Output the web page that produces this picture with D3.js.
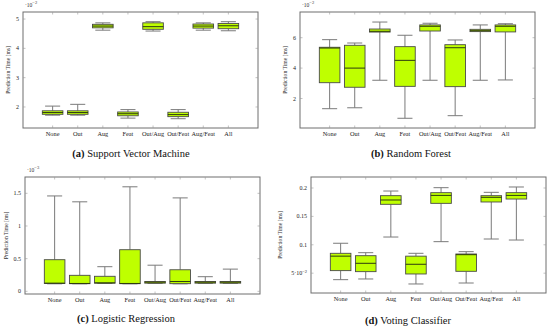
<!DOCTYPE html>
<html><head><meta charset="utf-8">
<script src="https://cdn.jsdelivr.net/npm/d3@7"></script>
<style>body{margin:0;background:#fff}svg{display:block}</style>
</head><body>
<script>
const categories = ["None","Out","Aug","Feat","Out/Aug","Out/Feat","Aug/Feat","All"];
// each entry: [lower whisker, q1, median, q3, upper whisker]
const svmStats = [[1.72,1.75,1.81,1.87,2.03],[1.72,1.75,1.81,1.87,2.09],[4.62,4.70,4.76,4.82,4.87],[1.62,1.70,1.77,1.83,1.91],
  [4.59,4.65,4.74,4.87,4.91],[1.60,1.67,1.74,1.82,1.91],[4.62,4.69,4.76,4.83,4.87],[4.60,4.67,4.77,4.85,4.91]];
const rfStats = [[1.33,3.04,5.32,5.37,5.87],[1.39,2.74,4.0,5.5,5.65],[3.2,6.37,6.42,6.57,7.03],[0.7,2.8,4.51,5.41,6.16],
  [3.2,6.44,6.75,6.84,6.95],[0.87,2.78,5.34,5.54,5.85],[3.2,6.4,6.46,6.55,6.84],[3.22,6.38,6.75,6.84,6.92]];
const lrStats = [[0.115,0.12,0.125,0.484,1.46],[0.115,0.117,0.12,0.245,1.37],[0.12,0.125,0.13,0.23,0.377],[0.115,0.117,0.12,0.637,1.60],
  [0.12,0.125,0.14,0.15,0.40],[0.115,0.117,0.15,0.33,1.43],[0.12,0.125,0.14,0.15,0.224],[0.12,0.125,0.14,0.15,0.34]];
const vcStats = [[0.0386,0.0545,0.080,0.085,0.1027],[0.0398,0.0527,0.0674,0.0808,0.0861],[0.1137,0.1713,0.1789,0.1865,0.1947],[0.031,0.0486,0.0657,0.080,0.085],
  [0.1055,0.173,0.187,0.1918,0.2006],[0.0327,0.0533,0.0826,0.0838,0.0879],[0.1102,0.1754,0.1836,0.1865,0.1924],[0.1084,0.1806,0.187,0.1918,0.2018]];
const svmTicks = [2,3,4,5], svmTickLabels = ["2","3","4","5"];
const rfTicks = [2,4,6], rfTickLabels = ["2","4","6"];
const lrTicks = [0,0.5,1,1.5], lrTickLabels = ["0","0.5","1","1.5"];
const vcTicks = [0.05,0.1,0.15,0.2], vcTickLabels = ["5·10^−2","0.1","0.15","0.2"];
const captions = [["(a)"," Support Vector Machine"],["(b)"," Random Forest"],["(c)"," Logistic Regression"],["(d)"," Voting Classifier"]];
const exponents = ["−2","−2","−3",null];

const W=550,H=327;
const svg=d3.select("body").append("svg").attr("width",W).attr("height",H);
const serif="'Liberation Serif','DejaVu Serif',serif";

const panels=[
  {stats:svmStats,ticks:svmTicks,labels:svmTickLabels,dom:[1.283,5.24],x0:23,y0:12,y1:128,cap:captions[0],exp:exponents[0],capX:131,capY:157,ylX:8},
  {stats:rfStats,ticks:rfTicks,labels:rfTickLabels,dom:[0.06,7.69],x0:300,y0:12,y1:128,cap:captions[1],exp:exponents[1],capX:411,capY:157,ylX:285},
  {stats:lrStats,ticks:lrTicks,labels:lrTickLabels,dom:[-0.041,1.75],x0:25,y0:177,y1:294,cap:captions[2],exp:exponents[2],capX:126,capY:322,ylX:6},
  {stats:vcStats,ticks:vcTicks,labels:vcTickLabels,dom:[0.0151,0.2194],x0:311,y0:177,y1:293,cap:captions[3],exp:exponents[3],capX:408,capY:324,ylX:280}
];
const PW=235;
panels.forEach(p=>{
  const g=svg.append("g");
  const x=d3.scaleLinear().domain([-0.18,9.18]).range([p.x0,p.x0+PW]);
  const y=d3.scaleLinear().domain(p.dom).range([p.y1,p.y0]);
  const pos=categories.map((c,i)=>i+1);
  g.append("rect").attr("x",p.x0).attr("y",p.y0).attr("width",PW).attr("height",p.y1-p.y0)
    .attr("fill","none").attr("stroke","#6e6e6e").attr("stroke-width",1);
  const tl=2.5;
  pos.forEach(v=>{
    g.append("line").attr("x1",x(v)).attr("x2",x(v)).attr("y1",p.y1).attr("y2",p.y1-tl).attr("stroke","#999").attr("stroke-width",0.6);
    g.append("line").attr("x1",x(v)).attr("x2",x(v)).attr("y1",p.y0).attr("y2",p.y0+tl).attr("stroke","#999").attr("stroke-width",0.6);
  });
  p.ticks.forEach(v=>{
    g.append("line").attr("x1",p.x0).attr("x2",p.x0+tl).attr("y1",y(v)).attr("y2",y(v)).attr("stroke","#999").attr("stroke-width",0.6);
    g.append("line").attr("x1",p.x0+PW).attr("x2",p.x0+PW-tl).attr("y1",y(v)).attr("y2",y(v)).attr("stroke","#999").attr("stroke-width",0.6);
  });
  p.ticks.forEach((v,i)=>{
    const lab=p.labels[i];
    const t=g.append("text").attr("x",p.x0-4).attr("y",y(v)+2).attr("text-anchor","end")
      .attr("font-family",serif).attr("font-size",6).attr("fill","#222");
    if(lab.includes("^")){
      const [a,b]=lab.split("^");
      t.append("tspan").text(a);
      t.append("tspan").attr("dy",-2.5).attr("font-size",4.5).text(b);
    } else t.text(lab);
  });
  categories.forEach((c,i)=>{
    g.append("text").attr("x",x(i+1)).attr("y",p.y1+8).attr("text-anchor","middle")
      .attr("font-family",serif).attr("font-size",6.3).attr("fill","#222").text(c);
  });
  if(p.exp){
    const t=g.append("text").attr("x",p.x0+2).attr("y",p.y0-5.5).attr("font-family",serif).attr("font-size",5.5).attr("fill","#333");
    t.append("tspan").text("·10");
    t.append("tspan").attr("dy",-2.5).attr("font-size",4.5).text(p.exp);
  }
  g.append("text").attr("transform",`translate(${p.ylX+2},${(p.y0+p.y1)/2}) rotate(-90)`)
    .attr("text-anchor","middle").attr("font-family",serif).attr("font-size",5.6).attr("fill","#333")
    .text("Prediction Time [ms]");
  const bw=0.82, cw=0.6;
  p.stats.forEach((s,i)=>{
    const cx=x(i+1);
    const [lo,q1,md,q3,hi]=s;
    const half=(x(bw)-x(0))/2, ch=(x(cw)-x(0))/2;
    g.append("line").attr("x1",cx).attr("x2",cx).attr("y1",y(hi)).attr("y2",y(q3)).attr("stroke","#7a7a7a").attr("stroke-width",1);
    g.append("line").attr("x1",cx).attr("x2",cx).attr("y1",y(q1)).attr("y2",y(lo)).attr("stroke","#7a7a7a").attr("stroke-width",1);
    g.append("line").attr("x1",cx-ch).attr("x2",cx+ch).attr("y1",y(hi)).attr("y2",y(hi)).attr("stroke","#7a7a7a").attr("stroke-width",1);
    g.append("line").attr("x1",cx-ch).attr("x2",cx+ch).attr("y1",y(lo)).attr("y2",y(lo)).attr("stroke","#7a7a7a").attr("stroke-width",1);
    g.append("rect").attr("x",cx-half).attr("y",y(q3)).attr("width",2*half).attr("height",Math.max(0.1,y(q1)-y(q3)))
      .attr("fill","#bfff00").attr("stroke","#4a4a4a").attr("stroke-width",0.9);
    g.append("line").attr("x1",cx-half).attr("x2",cx+half).attr("y1",y(md)).attr("y2",y(md)).attr("stroke","#2e3a10").attr("stroke-width",1);
  });
  const c=g.append("text").attr("x",p.capX).attr("y",p.capY).attr("text-anchor","middle")
    .attr("font-family",serif).attr("font-size",10.5).attr("fill","#111");
  c.append("tspan").attr("font-weight","bold").text(p.cap[0]);
  c.append("tspan").text(p.cap[1]);
});
</script>
</body></html>
